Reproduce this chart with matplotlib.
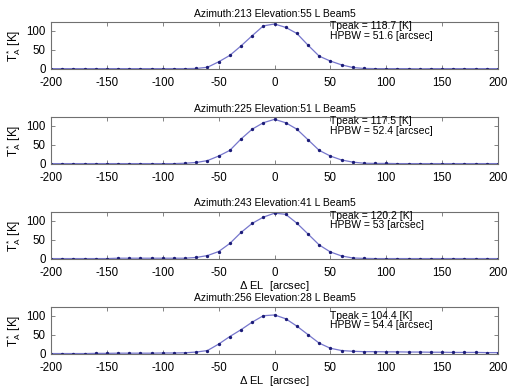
import numpy as np
import matplotlib
matplotlib.use('Agg')
import matplotlib.pyplot as plt

plt.rcParams['font.family'] = ['Liberation Sans', 'DejaVu Sans']
plt.rcParams['mathtext.fontset'] = 'custom'
plt.rcParams['mathtext.rm'] = 'Liberation Sans'
plt.rcParams['mathtext.it'] = 'Liberation Sans'
plt.rcParams['axes.unicode_minus'] = False

##==============================================================================
# scan offsets (arcsec) and antenna temperature
d_el = np.arange(-200, 201, 10)

titles = ['Azimuth:213 Elevation:55 L Beam5',
          'Azimuth:225 Elevation:51 L Beam5',
          'Azimuth:243 Elevation:41 L Beam5',
          'Azimuth:256 Elevation:28 L Beam5']
tpeak = [118.7, 117.5, 120.2, 104.4]
hpbw = ['51.6', '52.4', '53', '54.4']
show_xlabel = [False, False, True, True]

ta_1 = [0, 0, 0, 0, 0, 0, 0, 0, 0, 0, 0, 0, 0, 0.5, 3.6, 18, 35, 60, 87, 113,
        118, 109, 93, 62, 33, 20, 10, 3, 0.5, 0, 0, 0, 0, -0.5, 0, 0, 0, 0, 0, 0, 0]
ta_2 = [0, 0, 0, 0, 0, 0, 0, 0, 0, 0, 0, 0, 1, 3, 8, 20, 35, 65, 91, 108,
        117, 108, 91, 63, 35, 20, 9.6, 4, 1, 0.5, 0.5, 0, 0, 0, 0, 0, 0, 0, 0, 0, 0]
ta_3 = [0, 0, 0, 0, 0, 0, 1, 1, 1, 1, 1, 1, 1, 3, 8, 18.6, 40, 69, 93, 109.5,
        120, 117, 93.6, 65, 36, 17.5, 7, 1.6, 0.5, 0, 0, 0, 0, 0, 0, 0, 0, 0, 0, 0, 0]
ta_4 = [0, 0, 0, 0, 0.5, 0.5, 1, 1, 1, 1, 1.5, 1.5, 2, 4, 8, 25, 45, 63, 83, 100,
        102, 92, 72.5, 50, 27.5, 14, 8, 6, 5, 5, 4.5, 4.5, 4, 4, 3.5, 3.5, 3, 3, 3, 2.5, 2.5]
ta_all = [ta_1, ta_2, ta_3, ta_4]

##==============================================================================
fig = plt.figure(figsize=(5.16, 3.91), dpi=100)
fs = 7.5
for k in range(4):
    bottom = 0.8235 - k*0.2429
    ax = fig.add_axes([0.099, bottom, 0.866, 0.120])
    ax.plot(d_el, ta_all[k], '-', color='#7676cc', lw=0.9)
    ax.plot(d_el, ta_all[k], '.', color='#1c1c78', ms=2.8)
    ax.set_xlim(-200, 200)
    ax.set_ylim(-1, 123)
    ax.set_xticks(np.arange(-200, 201, 50))
    ax.set_yticks([0, 50, 100])
    ax.tick_params(direction='in', top=True, right=True, labelsize=8.3,
                   length=3, width=0.6, color='#707070')
    ax.tick_params(axis='x', pad=5.5)
    ax.tick_params(axis='y', pad=4)
    for s in ax.spines.values():
        s.set_color('#707070')
        s.set_linewidth(0.8)
    ax.set_title(titles[k], fontsize=fs, pad=4)
    ax.set_ylabel(r'$\mathregular{T^*_A}$ [K]', fontsize=8.5, labelpad=2)
    if show_xlabel[k]:
        ax.set_xlabel(r'$\Delta$ EL  [arcsec]', fontsize=8, labelpad=0.5)
    ax.text(50, 0.84*tpeak[k], 'Tpeak = %s [K]\nHPBW = %s [arcsec]' % (tpeak[k], hpbw[k]),
            fontsize=fs, va='center', ha='left', linespacing=0.95)

fig.savefig('out.png', dpi=100)
